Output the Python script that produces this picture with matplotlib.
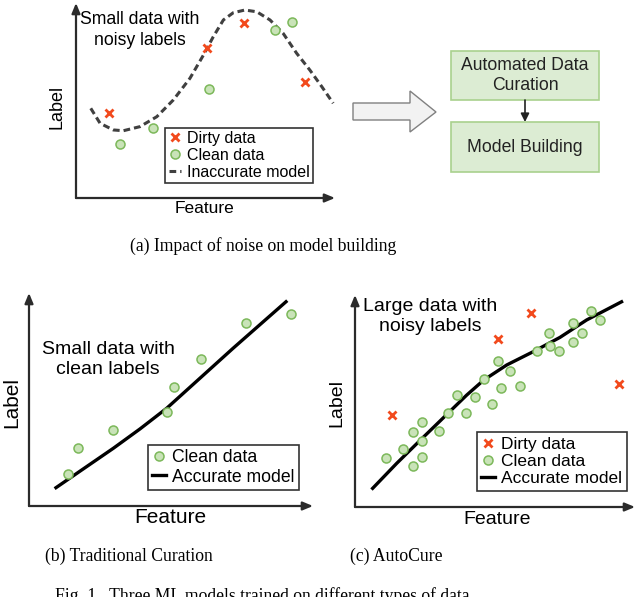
import matplotlib
matplotlib.use('Agg')
import matplotlib.pyplot as plt
from matplotlib.lines import Line2D
from matplotlib.patches import Rectangle, Polygon

plt.rcParams['font.family'] = ['Liberation Sans', 'DejaVu Sans']

# ---- data (feature / label units, 0..10 on each panel) ----
# (a) small data with noisy labels
a_dirty_x = [1.27, 5.06, 6.49, 8.84]
a_dirty_y = [4.36, 7.69, 8.97, 5.95]
a_clean_x = [1.70, 2.97, 5.14, 7.68, 8.34]
a_clean_y = [2.77, 3.59, 5.59, 8.62, 9.03]
a_model_x = [0.57, 0.93, 1.44, 1.83, 2.47, 3.12, 3.76, 4.40, 4.92, 5.30,
             5.69, 6.07, 6.52, 6.98, 7.49, 8.00, 8.52, 9.03, 9.49, 9.93]
a_model_y = [4.60, 3.83, 3.49, 3.45, 3.66, 4.17, 5.03, 6.14, 7.33, 8.27,
             9.13, 9.50, 9.64, 9.55, 9.13, 8.44, 7.42, 6.56, 5.71, 4.86]

# (b) small data with clean labels
b_clean_x = [1.37, 1.73, 2.96, 4.86, 5.11, 6.06, 7.64, 9.23]
b_clean_y = [1.50, 2.72, 3.57, 4.41, 5.59, 6.90, 8.59, 9.01]
b_model_x = [0.95, 1.91, 2.97, 3.91, 4.85, 6.02, 7.19, 9.05]
b_model_y = [0.86, 1.74, 2.71, 3.62, 4.59, 6.00, 7.41, 9.59]

# (c) large data with noisy labels
c_dirty_x = [1.32, 5.11, 6.29, 9.43]
c_dirty_y = [4.34, 7.92, 9.15, 5.80]
c_clean_x = [1.11, 1.73, 2.08, 2.40, 2.40, 2.08, 2.40, 3.01, 3.32, 3.64,
             3.95, 4.29, 4.60, 4.90, 5.10, 5.21, 5.54, 5.88, 6.51, 6.94,
             6.96, 7.30, 7.78, 7.78, 8.10, 8.44, 8.75]
c_clean_y = [2.30, 2.75, 3.55, 4.00, 3.11, 1.93, 2.37, 3.60, 4.45, 5.27,
             4.45, 5.17, 6.04, 4.86, 6.89, 5.63, 6.43, 5.69, 7.37, 8.22,
             7.59, 7.37, 8.67, 7.80, 8.22, 9.25, 8.82]
c_model_x = [0.63, 1.49, 2.40, 3.32, 3.99, 4.60, 5.42, 6.37, 7.32, 8.27, 9.52]
c_model_y = [0.88, 2.06, 3.24, 4.42, 5.28, 5.99, 6.70, 7.33, 8.00, 8.82, 9.68]

DIRTY = '#f24a1d'
CLEAN_FC = '#c9e3b8'
CLEAN_EC = '#7cb85a'
AXC = '#2b2b2b'

W, H = 640, 597
fig = plt.figure(figsize=(W / 100, H / 100), dpi=100)

# overlay in pixel coordinates for the diagram parts and captions
ov = fig.add_axes([0, 0, 1, 1])
ov.set_xlim(0, W)
ov.set_ylim(H, 0)
ov.axis('off')


def panel(rect):
    ax = fig.add_axes(rect)
    ax.set_xlim(0, 10)
    ax.set_ylim(0, 10)
    ax.axis('off')
    for tip in [(1, 0), (0, 1)]:
        ax.annotate('', xy=tip, xytext=(0, 0), xycoords='axes fraction',
                    arrowprops=dict(arrowstyle='-|>,head_length=0.6,head_width=0.25',
                                    lw=1.6, color=AXC, shrinkA=0, shrinkB=0,
                                    mutation_scale=10))
    return ax


def clean(ax, x, y):
    ax.plot(x, y, 'o', ms=6.5, mfc=CLEAN_FC, mec=CLEAN_EC, mew=1.1,
            clip_on=False, zorder=3)


def dirty(ax, x, y):
    ax.plot(x, y, 'x', ms=6, color=DIRTY, mew=2, clip_on=False, zorder=4)


def legend(ax, handles, labels, anchor, fs, pad):
    lg = ax.legend(handles, labels, loc='lower right', bbox_to_anchor=anchor,
                   borderaxespad=0, fontsize=fs, frameon=True, fancybox=False,
                   handlelength=0.8, handletextpad=0.35, labelspacing=0.12,
                   borderpad=pad)
    lg.get_frame().set_edgecolor('black')
    lg.get_frame().set_linewidth(1.2)
    return lg


h_dirty = Line2D([], [], ls='', marker='x', ms=6, color=DIRTY, mew=2)
h_clean = Line2D([], [], ls='', marker='o', ms=6.5, mfc=CLEAN_FC, mec=CLEAN_EC, mew=1.1)

# ---- (a) ----
ax = panel([76 / W, 1 - 198 / H, 259 / W, 195 / H])
ax.plot(a_model_x, a_model_y, color='#404040', lw=2.2, dashes=(2.2, 1.3),
        clip_on=False)
dirty(ax, a_dirty_x, a_dirty_y)
clean(ax, a_clean_x, a_clean_y)
h_dash = Line2D([], [], color='#404040', lw=2.2, dashes=(2.2, 1.3))
legend(ax, [h_dirty, h_clean, h_dash], ['Dirty data', 'Clean data', 'Inaccurate model'],
       (0.915, 0.077), 11.5, 0.2)
ax.text(2.47, 8.62, 'Small data with\nnoisy labels', fontsize=12.7,
        ha='center', va='center', linespacing=1.25)
ax.text(-0.73, 4.67, 'Label', fontsize=13, rotation=90, ha='center', va='center')
ax.text(4.98, -0.56, 'Feature', fontsize=12.5, ha='center', va='center')

# ---- (b) ----
ax = panel([29 / W, 1 - 506 / H, 284 / W, 213 / H])
ax.plot(b_model_x, b_model_y, color='black', lw=2.4, clip_on=False)
clean(ax, b_clean_x, b_clean_y)
h_line = Line2D([], [], color='black', lw=2.4)
legend(ax, [h_clean, h_line], ['Clean data', 'Accurate model'],
       (0.951, 0.075), 12.7, 0.25)
ax.text(2.78, 6.88, 'Small data with\nclean labels', fontsize=14,
        ha='center', va='center', linespacing=1.2)
ax.text(-0.60, 4.84, 'Label', fontsize=15, rotation=90, ha='center', va='center')
ax.text(4.96, -0.56, 'Feature', fontsize=15, ha='center', va='center')

# ---- (c) ----
ax = panel([355 / W, 1 - 507 / H, 280 / W, 212 / H])
ax.plot(c_model_x, c_model_y, color='black', lw=2.4, clip_on=False, zorder=2)
clean(ax, c_clean_x, c_clean_y)
dirty(ax, c_dirty_x, c_dirty_y)
legend(ax, [h_dirty, h_clean, h_line], ['Dirty data', 'Clean data', 'Accurate model'],
       (0.971, 0.075), 12.5, 0.27)
ax.text(2.68, 8.99, 'Large data with\nnoisy labels', fontsize=14,
        ha='center', va='center', linespacing=1.2)
ax.text(-0.64, 4.91, 'Label', fontsize=14, rotation=90, ha='center', va='center')
ax.text(5.07, -0.57, 'Feature', fontsize=14, ha='center', va='center')

# ---- flow diagram ----
ov.add_patch(Polygon([(353, 103), (410, 103), (410, 91), (436, 112),
                      (410, 132), (410, 120), (353, 120)],
                     closed=True, fc='#f2f2f2', ec='#808080', lw=1))
ov.add_patch(Rectangle((451, 51), 148, 49, fc='#dcecd3', ec='#a9d18e', lw=1.2))
ov.add_patch(Rectangle((451, 122), 148, 50, fc='#dcecd3', ec='#a9d18e', lw=1.2))
ov.annotate('', xy=(525, 122), xytext=(525, 100),
            arrowprops=dict(arrowstyle='-|>,head_length=0.5,head_width=0.25',
                            lw=1.2, color='#222222', shrinkA=0, shrinkB=0,
                            mutation_scale=10))
ov.text(525, 75.5, 'Automated Data\nCuration', fontsize=12.7, ha='center',
        va='center', linespacing=1.2, color='#222222')
ov.text(525, 147, 'Model Building', fontsize=12.7, ha='center', va='center',
        color='#222222')

# ---- captions ----
serif = ['Liberation Serif', 'DejaVu Serif']
ov.text(263, 251, '(a) Impact of noise on model building', fontsize=12.7,
        family=serif, ha='center', va='baseline')
ov.text(129, 561, '(b) Traditional Curation', fontsize=12.7, family=serif,
        ha='center', va='baseline')
ov.text(396, 561, '(c) AutoCure', fontsize=12.7, family=serif,
        ha='center', va='baseline')
ov.text(262, 601, 'Fig. 1.  Three ML models trained on different types of data',
        fontsize=12.7, family=serif, ha='center', va='baseline', clip_on=False)

fig.savefig('out.png', dpi=100)
